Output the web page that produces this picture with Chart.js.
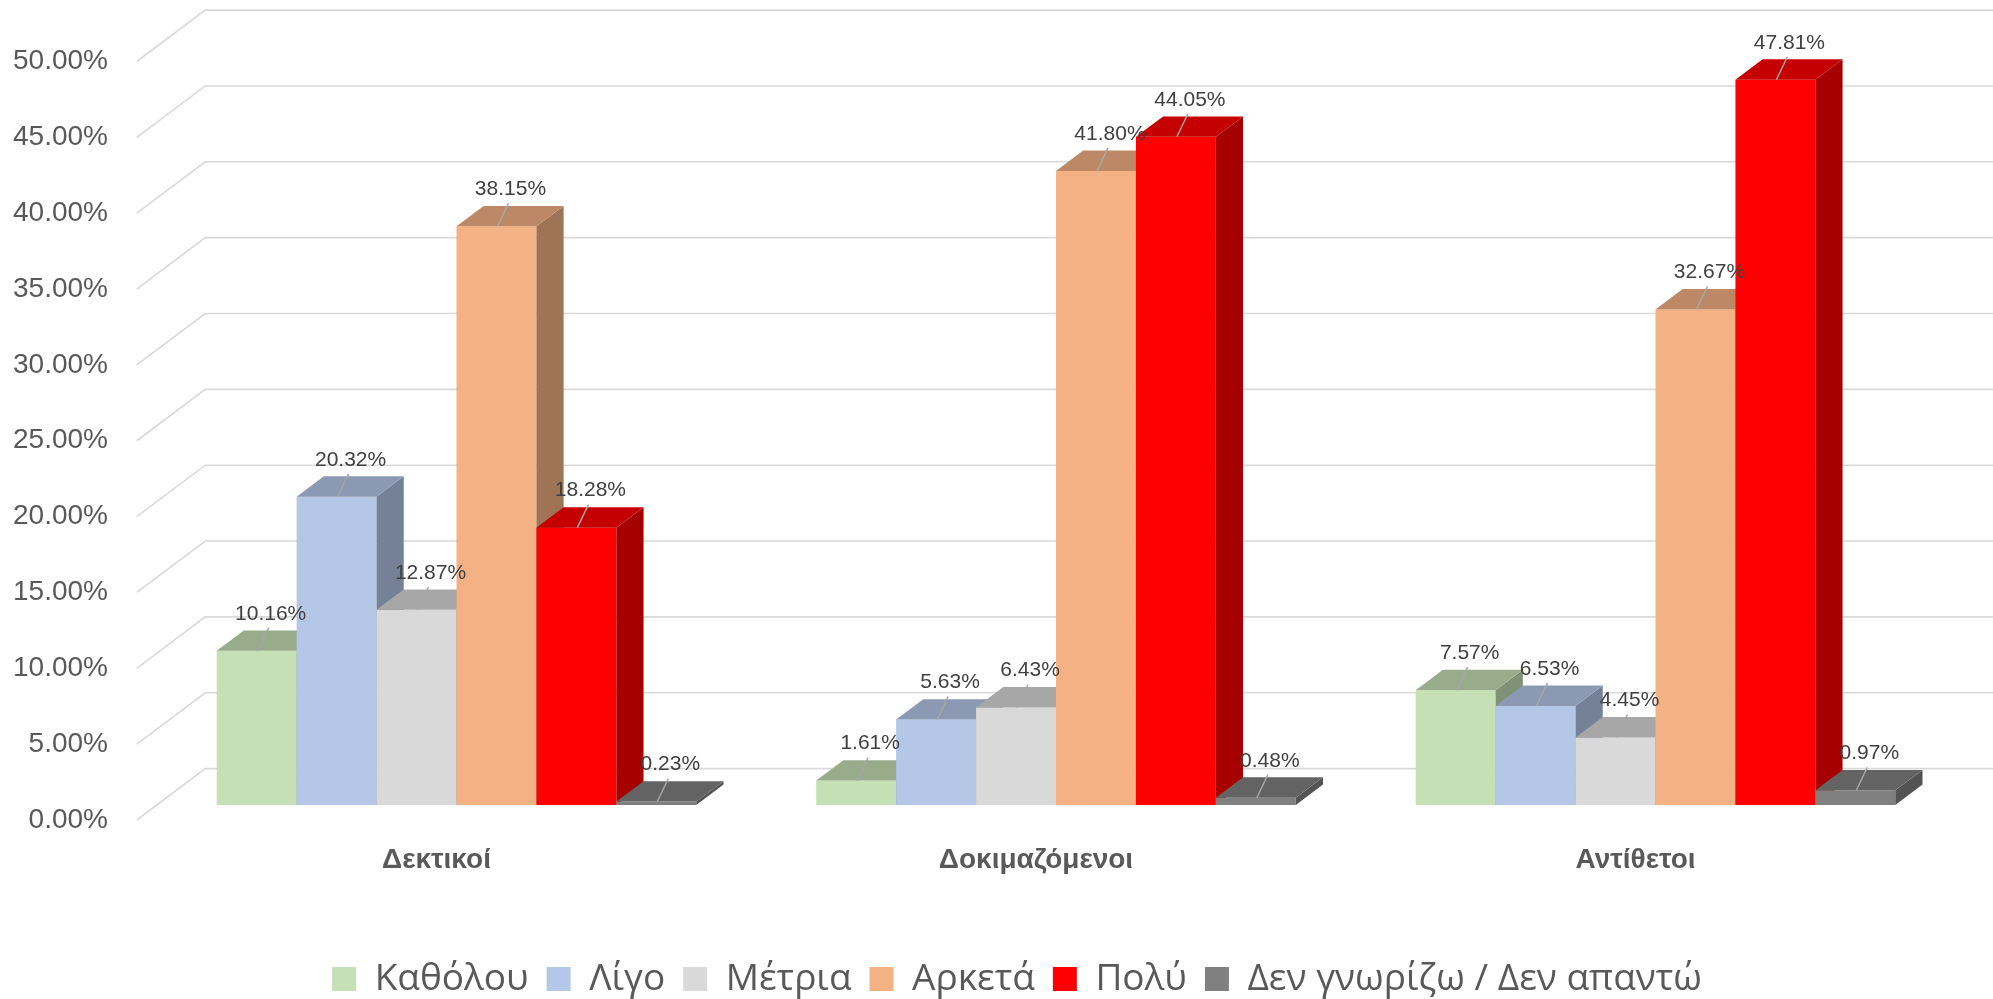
<!DOCTYPE html>
<html>
<head>
<meta charset="utf-8">
<script src="https://cdn.jsdelivr.net/npm/chart.js"></script>
<style>
  html, body { margin: 0; padding: 0; background: #ffffff; }
  canvas { display: block; background: #ffffff; }
</style>
</head>
<body>
<canvas id="c" width="1993" height="999"></canvas>
<script>
// ---- data ----
const categories = ['Δεκτικοί', 'Δοκιμαζόμενοι', 'Αντίθετοι'];
const seriesNames = ['Καθόλου', 'Λίγο', 'Μέτρια', 'Αρκετά', 'Πολύ', 'Δεν γνωρίζω / Δεν απαντώ'];
const katholou = [10.16, 1.61, 7.57];
const ligo = [20.32, 5.63, 6.53];
const metria = [12.87, 6.43, 4.45];
const arketa = [38.15, 41.80, 32.67];
const poly = [18.28, 44.05, 47.81];
const denGnorizo = [0.23, 0.48, 0.97];
const yTickMin = 0, yTickMax = 50, yTickStep = 5;

// ---- styles ----
const seriesColors = ['#C5E0B4', '#B4C7E7', '#D9D9D9', '#F4B183', '#FF0000', '#808080'];
const seriesValues = [katholou, ligo, metria, arketa, poly, denGnorizo];

const DEPTH_RATIO = 0.34;      // bar depth relative to bar width
const SLANT = 0.75;            // dy/dx of receding axis
const WALL_FRONT = {dx: -20, dy: 15};
const WALL_BACK = {dx: 48.5, dy: -36.4};
const LABEL_OFF = {dx: 14, dy: -37};
const LEGEND_SHIFT = 39.4;

function shade(hex, f) {
  const n = parseInt(hex.slice(1), 16);
  const r = Math.round(((n >> 16) & 255) * f);
  const g = Math.round(((n >> 8) & 255) * f);
  const b = Math.round((n & 255) * f);
  return `rgb(${r},${g},${b})`;
}
function fillPoly(ctx, pts, color) {
  ctx.beginPath();
  ctx.moveTo(pts[0][0], pts[0][1]);
  for (let i = 1; i < pts.length; i++) ctx.lineTo(pts[i][0], pts[i][1]);
  ctx.closePath();
  ctx.fillStyle = color;
  ctx.fill();
}

const threeD = {
  id: 'threeD',
  afterLayout(chart) {
    if (chart.legend) {
      chart.legend.left += LEGEND_SHIFT;
      chart.legend.right += LEGEND_SHIFT;
    }
  },
  beforeDatasetsDraw(chart) {
    const {ctx, chartArea, scales: {y}} = chart;
    ctx.save();
    // walls / gridlines
    ctx.strokeStyle = '#d9d9d9';
    ctx.lineWidth = 1.6;
    y.ticks.forEach(t => {
      const p = y.getPixelForValue(t.value);
      ctx.beginPath();
      ctx.moveTo(chartArea.left + WALL_FRONT.dx, p + WALL_FRONT.dy);
      ctx.lineTo(chartArea.left + WALL_BACK.dx, p + WALL_BACK.dy);
      ctx.lineTo(chart.width, p + WALL_BACK.dy);
      ctx.stroke();
    });
    // bars, left to right within each group
    chart.data.datasets.forEach((ds, di) => {
      const meta = chart.getDatasetMeta(di);
      const color = ds.backgroundColor;
      meta.data.forEach(bar => {
        bar.draw(ctx);
        const {x, y: top, base, width} = bar.getProps(['x', 'y', 'base', 'width'], true);
        const l = x - width / 2, r = x + width / 2;
        const dx = width * DEPTH_RATIO, dy = dx * SLANT;
        fillPoly(ctx, [[r, top], [r + dx, top - dy], [r + dx, base - dy], [r, base]], shade(color, 0.65));
        fillPoly(ctx, [[l, top], [r, top], [r + dx, top - dy], [l + dx, top - dy]], shade(color, 0.77));
      });
    });
    // data labels with leader lines
    ctx.font = '21px "Liberation Sans", Arial, sans-serif';
    ctx.textAlign = 'center';
    ctx.textBaseline = 'middle';
    chart.data.datasets.forEach((ds, di) => {
      const meta = chart.getDatasetMeta(di);
      meta.data.forEach((bar, i) => {
        const {x, y: top} = bar.getProps(['x', 'y'], true);
        const lx = x + LABEL_OFF.dx, ly = top + LABEL_OFF.dy;
        ctx.strokeStyle = '#a6a6a6';
        ctx.lineWidth = 1.5;
        ctx.beginPath();
        ctx.moveTo(x + 1, top);
        ctx.lineTo(lx - 2, ly + 14);
        ctx.stroke();
        ctx.fillStyle = '#404040';
        ctx.fillText(ds.data[i].toFixed(2) + '%', lx, ly);
      });
    });
    ctx.restore();
    return false;
  }
};

const datasets = seriesNames.map((name, i) => ({
  label: name,
  data: seriesValues[i],
  backgroundColor: seriesColors[i],
  borderWidth: 0,
  categoryPercentage: 0.8,
  barPercentage: 1.0
}));

new Chart(document.getElementById('c'), {
  type: 'bar',
  data: { labels: categories, datasets },
  plugins: [threeD],
  options: {
    responsive: false,
    animation: false,
    devicePixelRatio: 1,
    layout: { padding: { left: 0, right: 37.75, top: 46.5, bottom: -8.5 } },
    plugins: {
      tooltip: { enabled: false },
      legend: {
        position: 'bottom',
        align: 'center',
        labels: {
          boxWidth: 24,
          boxHeight: 24,
          padding: 18,
          color: '#595959',
          font: { family: '"Open Sans", "Noto Sans", sans-serif', size: 37 }
        }
      }
    },
    scales: {
      x: {
        grid: { display: false, drawTicks: false },
        border: { display: false },
        ticks: {
          color: '#595959',
          font: { family: '"Liberation Sans", Arial, sans-serif', size: 28, weight: 'bold' },
          padding: 38,
          labelOffset: -20,
          maxRotation: 0,
          autoSkip: false
        },
        afterFit(s) { s.height = 137.5; s.paddingLeft = 0; s.paddingRight = 0; }
      },
      y: {
        min: yTickMin,
        max: yTickMax,
        grid: { display: false, drawTicks: false },
        border: { display: false },
        ticks: {
          stepSize: yTickStep,
          color: '#595959',
          font: { family: '"Liberation Sans", Arial, sans-serif', size: 28 },
          padding: 48.75,
          labelOffset: 15,
          callback: v => Number(v).toFixed(2) + '%'
        },
        afterFit(s) { s.width = 156.75; s.paddingTop = 0; s.paddingBottom = 0; }
      }
    }
  }
});
</script>
</body>
</html>
